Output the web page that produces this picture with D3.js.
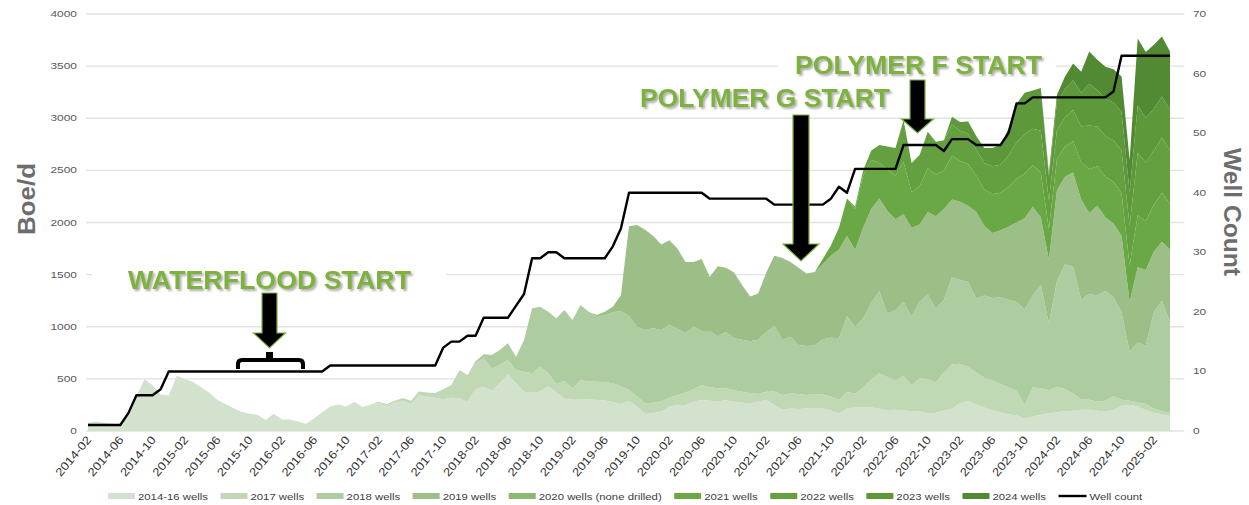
<!DOCTYPE html>
<html>
<head>
<meta charset="utf-8">
<script src="https://cdn.jsdelivr.net/npm/d3@7"></script>
<style>
  body { margin: 0; background: #fff; }
  text { font-family: "Liberation Sans", Arial, sans-serif; }
</style>
</head>
<body>
<div id="chart"></div>
<script>
// monthly categories 2014-02 .. 2025-04
var months = d3.utcMonth.range(new Date(Date.UTC(2014, 1, 1)), new Date(Date.UTC(2025, 4, 1)));
var labels = months.map(d3.utcFormat("%Y-%m"));

// production by vintage, boe/d (each list starts at its own month)
var wells1416 = [80,90,80,70,60,170,330,500,440,350,
  340,530,500,470,420,370,300,260,220,185,
  165,155,105,165,110,110,90,70,120,180,
  235,255,235,280,230,250,270,245,270,291,
  260,345,330,320,305,320,315,281,400,425,
  385,460,545,460,377,367,380,430,370,310,
  300,300,305,297,292,275,260,285,235,163,
  173,185,233,249,249,281,297,290,281,297,
  281,270,265,281,297,250,205,215,210,215,
  215,215,200,165,215,225,225,225,215,200,
  205,200,185,190,165,175,195,215,265,285,
  255,225,200,180,160,150,120,140,155,170,
  180,190,195,205,205,195,185,205,240,250,
  235,200,175,160,145];
var wells2017 = [5,10,15,20,25,30,35,40,45,95,
  121,270,256,249,272,215,173,136,125,192,
  186,237,123,80,170,110,189,170,176,178,
  182,170,108,95,102,97,100,87,96,121,
  119,143,130,128,112,109,107,100,74,80,
  130,140,145,145,130,140,135,130,135,160,
  135,195,270,340,315,280,330,255,315,335,
  290,365,425,380,330,305,285,285,270,260,
  235,130,280,255,220,245,210,165,100,95,
  85,105,130,60,40,40,60,40,30,30];
var wells2018 = [0,20,40,129,144,160,128,304,624,576,
  592,631,681,655,720,670,620,640,683,720,
  707,670,705,715,685,700,635,570,600,520,
  540,501,541,500,498,495,520,573,630,528,
  545,470,470,465,530,565,590,725,640,660,
  735,785,610,675,710,655,735,810,710,700,
  835,805,815,710,790,790,830,840,852,915,
  880,990,640,1015,1200,1215,955,1015,1020,1055,
  950,840,470,575,560,925,1060,870];
var wells2019 = [0,0,0,0,20,35,53,155,865,976,
  960,885,820,810,770,680,620,690,520,670,
  615,630,525,430,445,570,670,787,715,740,
  695,705,720,785,850,770,740,870,900,890,
  985,870,840,855,740,790,885,870,745,750,
  730,830,670,625,645,700,763,875,850,650,
  610,870,840,905,960,775,860,705,705,730,
  480,720,725,580,565,695];
var wells2020 = [];
var wells2021 = [0,0,0,0,0,0,0,0,
  50,100,210,360,390,500,470,340,400,420,
  500,340,370,420,400,370,420,390,400,350,
  350,370,360,380,420,430,400,430,300,300,
  290,300,360,420,380,390,400,410,350,500,
  470,450,470,440];
var wells2022 = [20,50,90,174,220,265,400,280,300,350,
  315,290,300,290,290,250,250,270,270,300,
  350,380,350,400,270,280,280,300,340,420,
  380,390,400,410,380,600,560,520,527,510];
var wells2023 = [75,85,120,130,145,175,190,260,370,395,365,410,
  230,265,270,285,325,400,350,355,360,370,320,450,430,400,397,390];
var wells2024 = [35,70,120,160,200,310,290,310,320,340,310,645,630,615,576,560];

// well count (right axis)
var wellCount = [1,1,1,1,1,3,6,6,6,7,
  10,10,10,10,10,10,10,10,10,10,
  10,10,10,10,10,10,10,10,10,10,
  11,11,11,11,11,11,11,11,11,11,
  11,11,11,11,14,15,15,16,16,19,
  19,19,19,21,23,29,29,30,30,29,
  29,29,29,29,29,31,34,40,40,40,
  40,40,40,40,40,40,40,39,39,39,
  39,39,39,39,39,38,38,38,38,38,
  38,38,39,41,40,44,44,44,44,44,
  44,48,48,48,48,48,47,49,49,49,
  48,48,48,48,50,55,55,56,56,56,
  56,56,56,56,56,56,56,57,63,63,
  63,63,63,63,63];

var seriesNames = ["2014-16 wells", "2017 wells", "2018 wells", "2019 wells", "2020 wells (none drilled)",
  "2021 wells", "2022 wells", "2023 wells", "2024 wells"];
var seriesStarts = ["2014-02", "2017-01", "2018-01", "2019-01", "2020-01", "2021-01", "2022-01", "2023-01", "2024-01"];
var seriesColors = ["#d3e2cc", "#c1d8b5", "#adcc9f", "#9bbf87", "#8bb972", "#6aa845", "#64a040", "#5d983a", "#528a34"];
var seriesValues = [wells1416, wells2017, wells2018, wells2019, wells2020, wells2021, wells2022, wells2023, wells2024];

var yTicks = [0, 500, 1000, 1500, 2000, 2500, 3000, 3500, 4000];
var y2Ticks = [0, 10, 20, 30, 40, 50, 60, 70];

function pad(values, start) {
  var k0 = labels.indexOf(start);
  return labels.map(function(m, i) {
    var k = i - k0;
    return (k >= 0 && k < values.length) ? values[k] : 0;
  });
}

var full = seriesValues.map(function(v, j) { return pad(v, seriesStarts[j]); });
var rows = labels.map(function(m, i) {
  var r = {month: m, wells: wellCount[i]};
  seriesNames.forEach(function(k, j) { r[k] = full[j][i]; });
  return r;
});

// widen text a bit, the original picture is stretched sideways
function widen(sel, f) {
  sel.each(function() {
    var w = this.getComputedTextLength();
    this.setAttribute("textLength", w * f);
    this.setAttribute("lengthAdjust", "spacingAndGlyphs");
    this.__w = w * f;
  });
}

var svg = d3.select("#chart").append("svg")
  .attr("width", 1249)
  .attr("height", 505);

var defs = svg.append("defs");
defs.append("filter").attr("id", "shadow")
  .attr("x", "-10%").attr("y", "-30%").attr("width", "130%").attr("height", "170%")
  .append("feDropShadow")
  .attr("dx", 2).attr("dy", 2).attr("stdDeviation", 1)
  .attr("flood-color", "#777").attr("flood-opacity", 0.6);

var x = d3.scalePoint().domain(labels).range([88, 1170]);
var y = d3.scaleLinear().domain([0, 4000]).range([431, 14]);
var y2 = d3.scaleLinear().domain([0, 70]).range([431, 14]);

// gridlines
svg.append("g").selectAll("line")
  .data(yTicks)
  .enter().append("line")
  .attr("x1", 86).attr("x2", 1184)
  .attr("y1", function(d) { return y(d); })
  .attr("y2", function(d) { return y(d); })
  .attr("stroke", "#e2e2e2")
  .attr("stroke-width", 1.3);

// stacked areas
var stack = d3.stack().keys(seriesNames);
var layers = stack(rows);
var area = d3.area()
  .x(function(d) { return x(d.data.month); })
  .y0(function(d) { return y(d[0]); })
  .y1(function(d) { return y(d[1]); });

svg.append("g").selectAll("path")
  .data(layers)
  .enter().append("path")
  .attr("d", area)
  .attr("fill", function(d, i) { return seriesColors[i]; });

// well count line
var line = d3.line()
  .x(function(d) { return x(d.month); })
  .y(function(d) { return y2(d.wells); });
svg.append("path")
  .datum(rows)
  .attr("d", line)
  .attr("fill", "none")
  .attr("stroke", "#000")
  .attr("stroke-width", 2.4)
  .attr("stroke-linejoin", "round");

// left axis labels
var yl = svg.append("g").selectAll("text")
  .data(yTicks)
  .enter().append("text")
  .attr("x", 77)
  .attr("y", function(d) { return y(d) + 3; })
  .attr("text-anchor", "end")
  .attr("font-size", 8.5)
  .attr("fill", "#595959")
  .text(function(d) { return d; });
widen(yl, 1.4);

// right axis labels
var yr = svg.append("g").selectAll("text")
  .data(y2Ticks)
  .enter().append("text")
  .attr("x", 1193)
  .attr("y", function(d) { return y2(d) + 3; })
  .attr("font-size", 8.5)
  .attr("fill", "#595959")
  .text(function(d) { return d; });
widen(yr, 1.4);

// x labels every 4 months
var xl = svg.append("g").selectAll("text")
  .data(labels.filter(function(m, i) { return i % 4 === 0; }))
  .enter().append("text")
  .attr("transform", function(d) { return "translate(" + (x(d) + 4) + ",440) rotate(-50)"; })
  .attr("text-anchor", "end")
  .attr("font-size", 11.5)
  .attr("fill", "#333")
  .text(function(d) { return d; });
widen(xl, 1.15);

// axis titles
svg.append("text")
  .attr("transform", "translate(35,199) rotate(-90)")
  .attr("text-anchor", "middle")
  .attr("font-size", 24).attr("font-weight", "bold")
  .attr("fill", "#6d6d6d")
  .attr("textLength", 72).attr("lengthAdjust", "spacingAndGlyphs")
  .text("Boe/d");
svg.append("text")
  .attr("transform", "translate(1224,212) rotate(90)")
  .attr("text-anchor", "middle")
  .attr("font-size", 24).attr("font-weight", "bold")
  .attr("fill", "#6d6d6d")
  .attr("textLength", 128).attr("lengthAdjust", "spacingAndGlyphs")
  .text("Well Count");

// legend
var lx = 108;
var legend = svg.append("g");
seriesNames.forEach(function(name, i) {
  legend.append("rect")
    .attr("x", lx).attr("y", 493)
    .attr("width", 27).attr("height", 6)
    .attr("fill", seriesColors[i]);
  var t = legend.append("text")
    .attr("x", lx + 30).attr("y", 499.5)
    .attr("font-size", 9).attr("fill", "#404040")
    .text(name);
  widen(t, 1.26);
  lx += 30 + t.node().__w + 12.5;
});
legend.append("line")
  .attr("x1", lx).attr("x2", lx + 28)
  .attr("y1", 496).attr("y2", 496)
  .attr("stroke", "#000").attr("stroke-width", 2.4);
var wt = legend.append("text")
  .attr("x", lx + 31).attr("y", 499.5)
  .attr("font-size", 9).attr("fill", "#404040")
  .text("Well count");
widen(wt, 1.26);

// annotations
var notes = [
  {text: "WATERFLOOD START", x: 128, y: 289, w: 283, box: [92, 255, 354, 45]},
  {text: "POLYMER G START", x: 640, y: 107, w: 250, box: [625, 82, 280, 31]},
  {text: "POLYMER F START", x: 795, y: 74, w: 247, box: [778, 45, 278, 38]}
];
var ann = svg.append("g");
notes.forEach(function(n) {
  ann.append("rect")
    .attr("x", n.box[0]).attr("y", n.box[1])
    .attr("width", n.box[2]).attr("height", n.box[3])
    .attr("fill", "#fff");
});
notes.forEach(function(n) {
  ann.append("text")
    .attr("x", n.x).attr("y", n.y)
    .attr("font-family", "DejaVu Sans, Verdana, sans-serif")
    .attr("font-size", 26).attr("font-weight", "bold")
    .attr("fill", "#7db23c")
    .attr("filter", "url(#shadow)")
    .attr("textLength", n.w).attr("lengthAdjust", "spacingAndGlyphs")
    .text(n.text);
});

function arrow(cx, top, shaftW, headY, headW, tipY) {
  var h = shaftW / 2, hw = headW / 2;
  return "M" + (cx - h) + "," + top + "H" + (cx + h) + "V" + headY + "H" + (cx + hw) +
    "L" + cx + "," + tipY + "L" + (cx - hw) + "," + headY + "H" + (cx - h) + "Z";
}
ann.append("path").attr("d", arrow(269.5, 293, 15, 333, 32, 348))
  .attr("fill", "#000").attr("stroke", "#7db23c").attr("stroke-width", 1.2);
ann.append("path").attr("d", arrow(801, 115, 16, 244, 36, 261))
  .attr("fill", "#000").attr("stroke", "#7db23c").attr("stroke-width", 1.2);
ann.append("path").attr("d", arrow(917.5, 80, 15, 119, 32, 133))
  .attr("fill", "#000").attr("stroke", "#7db23c").attr("stroke-width", 1.2);

// bracket under the waterflood arrow
ann.append("path")
  .attr("d", "M238,369V364Q238,360 242,360H299Q303,360 303,364V369")
  .attr("fill", "none").attr("stroke", "#000").attr("stroke-width", 4);
ann.append("rect")
  .attr("x", 266).attr("y", 352).attr("width", 7).attr("height", 8)
  .attr("fill", "#000");
</script>
</body>
</html>
